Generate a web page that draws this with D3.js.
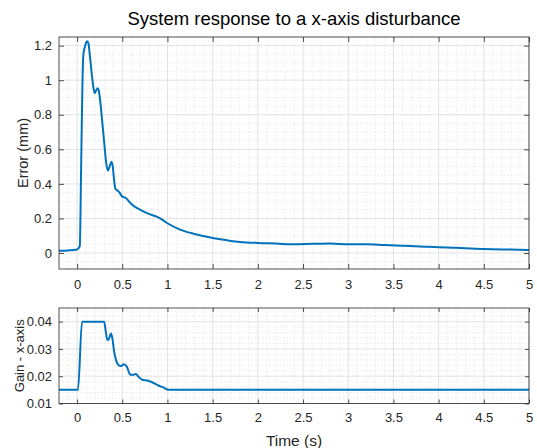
<!DOCTYPE html>
<html>
<head>
<script src="https://d3js.org/d3.v7.min.js"></script>
<style>
	body { margin: 0; padding: 0; background: #fff; }
	svg { display: block; font-family: 'Liberation Sans', Arial, sans-serif; }
	.tick text { fill: #262626; font-size: 13px; }
	.domain { display: none; }
	.tick line { stroke: #262626; stroke-width: 0.8; }
	.grid-major line { stroke: #dcdcdc; stroke-width: 0.8; }
	.grid-minor line { stroke: #e4e4e4; stroke-width: 0.8; stroke-dasharray: 1.5,2; }
</style>
</head>
<body>
<div id="chart"></div>
<script>

	// error curve (top panel)
	var errTime = [-0.2, -0.1, 0, 0.02, 0.03, 0.045, 0.06, 0.07, 0.09, 0.11, 0.125, 0.14, 0.16, 0.18, 0.195,
		0.21, 0.228, 0.24, 0.26, 0.28, 0.3, 0.32, 0.34, 0.36, 0.38, 0.395, 0.41, 0.425, 0.45, 0.47, 0.5,
		0.54, 0.58, 0.62, 0.7, 0.8, 0.88, 0.95, 1.0, 1.14, 1.3, 1.45, 1.585, 1.7, 1.8, 2.0, 2.2, 2.4,
		2.6, 2.8, 3.0, 3.2, 3.4, 3.6, 3.8, 4.0, 4.2, 4.4, 4.6, 4.8, 5.0];
	var errValue = [0.013, 0.015, 0.02, 0.03, 0.04, 0.5, 1.0, 1.15, 1.2, 1.225, 1.215, 1.15, 1.05, 0.96, 0.925,
		0.94, 0.953, 0.94, 0.86, 0.75, 0.64, 0.53, 0.476, 0.5, 0.528, 0.5, 0.42, 0.37, 0.36, 0.35, 0.326,
		0.318, 0.295, 0.275, 0.25, 0.225, 0.21, 0.19, 0.172, 0.135, 0.11, 0.092, 0.079, 0.07, 0.064, 0.058, 0.055, 0.05,
		0.053, 0.055, 0.05, 0.05, 0.046, 0.042, 0.038, 0.033, 0.03, 0.024, 0.021, 0.02, 0.017];

	// gain curve (bottom panel)
	var gainTime = [-0.2, 0.01, 0.055, 0.3, 0.315, 0.335, 0.35, 0.375, 0.39, 0.41, 0.43, 0.45, 0.48, 0.52,
		0.55, 0.59, 0.62, 0.65, 0.68, 0.72, 0.78, 0.83, 0.9, 0.96, 1.01, 5.0];
	var gainValue = [0.015, 0.015, 0.04, 0.04, 0.037, 0.0333, 0.0335, 0.0357, 0.034, 0.029, 0.026, 0.0245, 0.0237, 0.0244,
		0.0235, 0.0205, 0.0205, 0.0208, 0.0198, 0.0187, 0.0184, 0.0178, 0.0166, 0.0158, 0.015, 0.015];

	var xTicks = [0, 0.5, 1, 1.5, 2, 2.5, 3, 3.5, 4, 4.5, 5];
	var errTicks = [0, 0.2, 0.4, 0.6, 0.8, 1, 1.2];
	var gainTicks = [0.01, 0.02, 0.03, 0.04];

	var titleText = "System response to a x-axis disturbance";
	var xLabel = "Time (s)";
	var errLabel = "Error (mm)";
	var gainLabel = "Gain - x-axis";

	var W = 537, H = 448;
	var left = 59, right = 529;

	var svg = d3.select('#chart').append('svg')
		.attr('width', W)
		.attr('height', H);

	function panel(opts){
		var x = d3.scaleLinear().domain([-0.2, 5]).range([left, right]);
		var y = d3.scaleLinear().domain(opts.yDomain).range([opts.bottom, opts.top]);
		var g = svg.append('g');

		// minor grid
		var minor = g.append('g').attr('class', 'grid-minor');
		minor.selectAll('.vx').data(d3.range(-0.1, 5.0001, 0.1).filter(function(d){ return Math.abs(d / 0.5 - Math.round(d / 0.5)) > 1e-6; }))
			.enter().append('line')
			.attr('x1', function(d){ return x(d); }).attr('x2', function(d){ return x(d); })
			.attr('y1', opts.top).attr('y2', opts.bottom);
		minor.selectAll('.hy').data(opts.minorY)
			.enter().append('line')
			.attr('x1', left).attr('x2', right)
			.attr('y1', function(d){ return y(d); }).attr('y2', function(d){ return y(d); });

		// major grid
		var major = g.append('g').attr('class', 'grid-major');
		major.selectAll('.vx').data(xTicks).enter().append('line')
			.attr('x1', function(d){ return x(d); }).attr('x2', function(d){ return x(d); })
			.attr('y1', opts.top).attr('y2', opts.bottom);
		major.selectAll('.hy').data(opts.yTicks).enter().append('line')
			.attr('x1', left).attr('x2', right)
			.attr('y1', function(d){ return y(d); }).attr('y2', function(d){ return y(d); });

		// data line
		var pts = opts.xs.map(function(t, i){ return [t, opts.ys[i]]; });
		var line = d3.line()
			.x(function(d){ return x(d[0]); })
			.y(function(d){ return y(d[1]); })
			.curve(d3.curveMonotoneX);
		g.append('path')
			.datum(pts)
			.attr('d', line)
			.attr('fill', 'none')
			.attr('stroke', '#0072bd')
			.attr('stroke-width', 2)
			.attr('stroke-linejoin', 'round');

		// axes, ticks pointing inward on all four sides
		var ts = opts.tick;
		g.append('g').attr('transform', 'translate(0,' + opts.bottom + ')')
			.call(d3.axisBottom(x).tickValues(xTicks).tickSize(-ts).tickPadding(opts.xPad).tickFormat(d3.format('')));
		g.append('g').attr('transform', 'translate(0,' + opts.top + ')')
			.call(d3.axisTop(x).tickValues(xTicks).tickSize(-ts).tickFormat(''));
		g.append('g').attr('transform', 'translate(' + left + ',0)')
			.call(d3.axisLeft(y).tickValues(opts.yTicks).tickSize(-ts).tickPadding(7).tickFormat(d3.format('')));
		g.append('g').attr('transform', 'translate(' + right + ',0)')
			.call(d3.axisRight(y).tickValues(opts.yTicks).tickSize(-ts).tickFormat(''));

		g.append('rect')
			.attr('x', left).attr('y', opts.top)
			.attr('width', right - left).attr('height', opts.bottom - opts.top)
			.attr('fill', 'none')
			.attr('stroke', '#262626')
			.attr('stroke-width', 0.8);

		svg.append('text')
			.attr('transform', 'translate(' + opts.labelX + ',' + ((opts.top + opts.bottom) / 2) + ') rotate(-90)')
			.attr('text-anchor', 'middle')
			.attr('fill', '#262626')
			.style('font-size', opts.labelSize + 'px')
			.text(opts.label);
	}

	panel({
		top: 37, bottom: 269,
		yDomain: [-0.0926, 1.25],
		yTicks: errTicks,
		minorY: d3.range(-0.05, 1.2501, 0.05).filter(function(d){ return Math.abs(d / 0.2 - Math.round(d / 0.2)) > 1e-6; }),
		xs: errTime, ys: errValue,
		tick: 5, xPad: 11,
		label: errLabel, labelX: 28, labelSize: 14.5
	});

	panel({
		top: 308, bottom: 403.5,
		yDomain: [0.01, 0.045],
		yTicks: gainTicks,
		minorY: d3.range(0.012, 0.0451, 0.002).filter(function(d){ return Math.abs(d / 0.01 - Math.round(d / 0.01)) > 1e-6; }),
		xs: gainTime, ys: gainValue,
		tick: 4, xPad: 9,
		label: gainLabel, labelX: 24, labelSize: 13
	});

	svg.append('text')
		.attr('x', (left + right) / 2)
		.attr('y', 25)
		.attr('text-anchor', 'middle')
		.attr('fill', '#000')
		.style('font-size', '18.5px')
		.text(titleText);

	svg.append('text')
		.attr('x', (left + right) / 2)
		.attr('y', 446)
		.attr('text-anchor', 'middle')
		.attr('fill', '#262626')
		.style('font-size', '15.5px')
		.text(xLabel);

</script>
</body>
</html>
